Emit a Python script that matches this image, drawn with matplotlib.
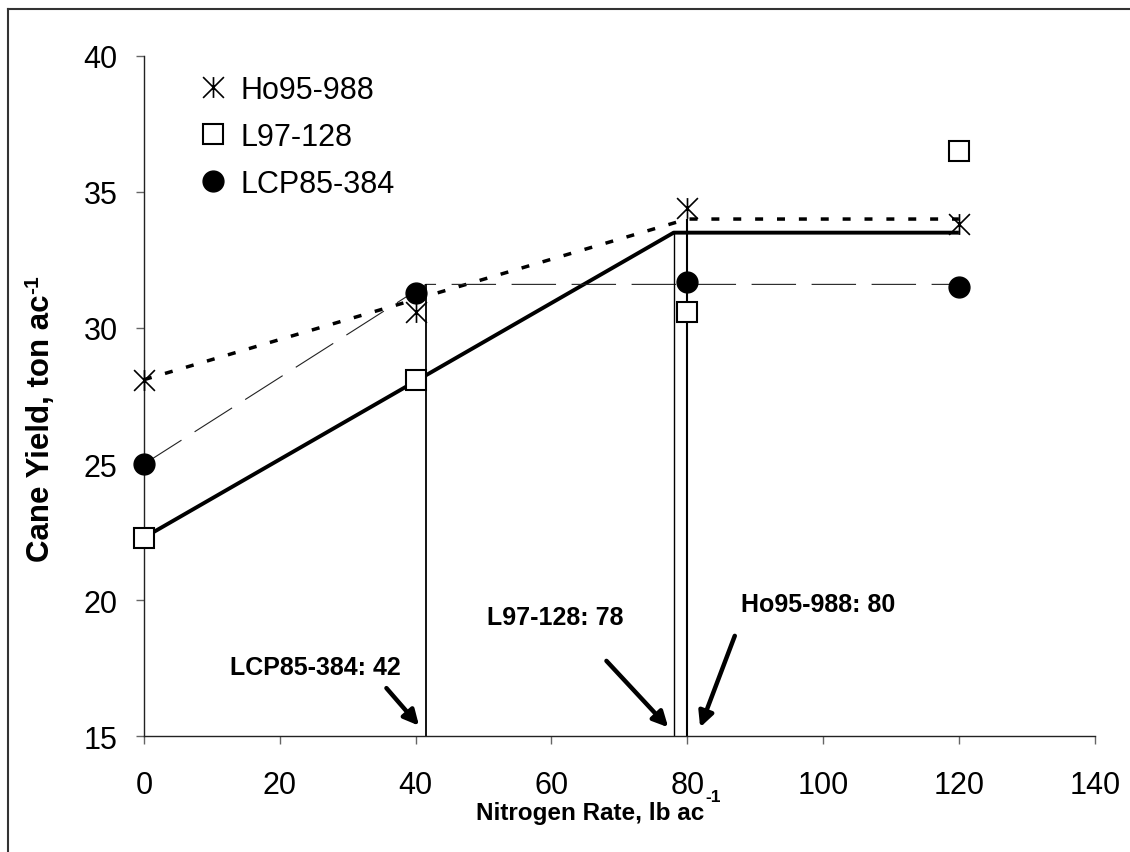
import matplotlib
matplotlib.use("Agg")
import matplotlib.pyplot as plt
from matplotlib.path import Path
from matplotlib.lines import Line2D

plt.rcParams['font.family'] = ['Liberation Sans', 'DejaVu Sans']

# ---- data ----
n_rates = [0, 40, 80, 120]
ho95_988 = [28.1, 30.6, 34.4, 33.8]
l97_128 = [22.3, 28.1, 30.6, 36.5]
lcp85_384 = [25.0, 31.3, 31.7, 31.5]

series_names = ["Ho95-988", "L97-128", "LCP85-384"]

# linear-plateau fits: (intercept at 0, join point, plateau)
ho_fit_x = [0, 80, 120]
ho_fit_y = [28.1, 34.0, 34.0]
l97_fit_x = [0, 78, 120]
l97_fit_y = [22.3, 33.5, 33.5]
lcp_fit_x = [0, 41.5, 120]
lcp_fit_y = [25.0, 31.6, 31.6]

join_labels = ["LCP85-384: 42", "L97-128: 78", "Ho95-988: 80"]
join_x = [41.5, 78, 80]
join_top = [31.6, 33.5, 34.0]
label_pos = [(25.2, 17.54), (60.5, 19.38), (99.3, 19.86)]
arrow_start = [(35.7, 16.77), (68.1, 17.77), (87.0, 18.69)]
arrow_tip = [(40.5, 15.39), (77.2, 15.33), (81.9, 15.33)]

x_ticks = [0, 20, 40, 60, 80, 100, 120, 140]
y_ticks = [15, 20, 25, 30, 35, 40]

# ---- figure ----
W, H = 1130, 853
fig = plt.figure(figsize=(W / 100, H / 100), dpi=100)
ax = fig.add_axes([144 / W, 1 - 737.3 / H, (1094.7 - 144) / W, (737.3 - 56.7) / H])

# asterisk marker (X with vertical bar)
ast = Path([(-1, -1), (1, 1), (-1, 1), (1, -1), (0, -1), (0, 1)],
           [Path.MOVETO, Path.LINETO, Path.MOVETO, Path.LINETO, Path.MOVETO, Path.LINETO])

# fit lines
ax.plot(ho_fit_x, ho_fit_y, color='black', lw=2.5, linestyle=(0, (2.3, 4.0)), zorder=2)
ax.plot(l97_fit_x, l97_fit_y, color='black', lw=2.8, solid_capstyle='butt', zorder=2)
ax.plot(lcp_fit_x, lcp_fit_y, color='#222222', lw=0.8, linestyle=(0, (40, 14)), zorder=2)

# vertical join lines
ax.vlines(join_x, 15, join_top, colors='black', lw=[1.3, 1.0, 1.5], zorder=2)

# markers
ax.plot(n_rates, ho95_988, linestyle='none', marker=ast, markersize=15,
        markeredgewidth=1.2, color='black', label=series_names[0], zorder=4, clip_on=False)
ax.plot(n_rates, l97_128, linestyle='none', marker='s', markersize=15,
        markeredgewidth=1.5, markerfacecolor='white', markeredgecolor='black',
        label=series_names[1], zorder=4, clip_on=False)
ax.plot(n_rates, lcp85_384, linestyle='none', marker='o', markersize=15,
        color='black', label=series_names[2], zorder=4, clip_on=False)

# annotations
for lab, (tx, ty), s, t in zip(join_labels, label_pos, arrow_start, arrow_tip):
    ax.text(tx, ty, lab, ha='center', va='center', fontsize=18, fontweight='bold')
    ax.annotate('', xy=t, xytext=s,
                arrowprops=dict(arrowstyle='-|>,head_length=0.9,head_width=0.45', lw=3.2,
                                color='black', shrinkA=0, shrinkB=0))

ax.set_xlim(0, 140)
ax.set_ylim(15, 40)
ax.set_xticks(x_ticks)
ax.set_yticks(y_ticks)
ax.tick_params(axis='both', labelsize=22, direction='out', length=6, width=1,
               color='#666666')
ax.tick_params(axis='x', pad=18)
ax.tick_params(axis='y', pad=13)
for s in ['top', 'right']:
    ax.spines[s].set_visible(False)
for s in ['left', 'bottom']:
    ax.spines[s].set_linewidth(1.0)
    ax.spines[s].set_color('#222222')
ax.patch.set_visible(False)

leg = ax.legend(loc='upper left', bbox_to_anchor=(0.0597, 0.972), frameon=False,
                fontsize=22, handlelength=0.8, handletextpad=0.5,
                labelspacing=0.56, borderaxespad=0, borderpad=0)

# axis titles with small hyphen superscript
fig.canvas.draw()
r = fig.canvas.get_renderer()
xt = fig.text(590 / W, 1 - 814 / H, 'Nitrogen Rate, lb ac', ha='center', va='center',
              fontsize=17.5, fontweight='bold')
bb = xt.get_window_extent(r)
fig.text(bb.x1 / W + 0.001, 1 - 798 / H, '-1', ha='left', va='center',
         fontsize=12.5, fontweight='bold')

yt = fig.text(41 / W, 1 - 562 / H, 'Cane Yield, ton ac', ha='center', va='bottom',
              fontsize=22.5, fontweight='bold', rotation=90)
bb = yt.get_window_extent(r)
fig.text(33 / W, bb.y1 / H + 0.001, '-1', ha='center', va='bottom',
         fontsize=15, fontweight='bold', rotation=90)

# figure frame (left and top)
fig.add_artist(Line2D([8 / W, 8 / W], [0, 1 - 10 / H], color='#333333', lw=1.5,
                      transform=fig.transFigure))
fig.add_artist(Line2D([8 / W, 1], [1 - 10 / H, 1 - 10 / H], color='#333333', lw=1.5,
                      transform=fig.transFigure))

fig.savefig('out.png', dpi=100)
